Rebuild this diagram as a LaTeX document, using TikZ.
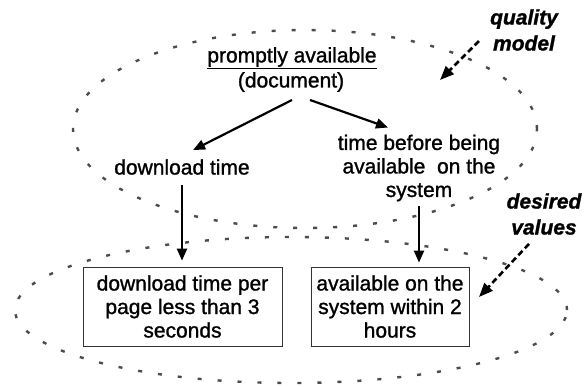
\documentclass[tikz,border=0pt]{standalone}
\usepackage{fontspec}
\setmainfont{Liberation Sans}[FakeBold=1.2]
\newfontfamily\heavyfont{Liberation Sans}[FakeBold=1.2]
\usetikzlibrary{arrows.meta}
\tikzset{
  txt/.style={inner sep=0pt, align=center, font=\heavyfont\fontsize{21}{23.5}\selectfont},
  lbl/.style={inner sep=0pt, align=center, font=\fontsize{21}{26}\selectfont\bfseries\itshape},
  valbox/.style={draw=black!80, line width=0.8pt, inner sep=0pt, align=center,
    font=\heavyfont\fontsize{21}{23.5}\selectfont},
  dotline/.style={draw=black!70, line width=2.4pt, dash pattern=on 4pt off 16pt},
  solidarrow/.style={line width=2.2pt, -{Triangle[length=12pt,width=10pt]}},
  dasharrow/.style={line width=2.6pt, dash pattern=on 6pt off 3.5pt, -{Triangle[length=14pt,width=11pt]}}
}
\begin{document}
\begin{tikzpicture}[x=1pt,y=-1pt]
\useasboundingbox (0,0) rectangle (587,386);
% ellipses
\draw[dotline] (305,129) ellipse [x radius=232pt, y radius=99pt];
\draw[dotline] (291,310) ellipse [x radius=276pt, y radius=73pt];
% texts
\node[txt] (pa) at (292,58) {\underline{promptly available}};
\node[txt] (doc) at (291,82) {(document)};
\node[txt] (dl) at (182,167) {download time};
\node[txt] (tb) at (419,168) {time before being\\available\ \ on the\\system};
\node[valbox, minimum width=199pt, minimum height=79pt] (b1) at (182.5,306.5) {download time per\\page less than 3\\seconds};
\node[valbox, minimum width=158pt, minimum height=79pt] (b2) at (390,306.5) {available on the\\system within 2\\hours};
\node[lbl] (qm) at (524,30) {quality\\model};
\node[lbl] (dv) at (544,214) {desired\\values};
% arrow targets
\coordinate (qmtip) at (440,80);
\coordinate (dvtip) at (479,297);
% arrows
\draw[solidarrow] ([xshift=1pt,yshift=-8pt]doc.south) -- ([xshift=11pt,yshift=9pt]dl.north);
\draw[solidarrow] ([xshift=19pt,yshift=-8pt]doc.south) -- ([xshift=-31pt,yshift=7pt]tb.north);
\draw[solidarrow] ([yshift=-10pt]dl.south) -- ([yshift=6pt]dl.south |- b1.north);
\draw[solidarrow] ([yshift=-5pt]tb.south) -- ([yshift=4pt]tb.south |- b2.north);
\draw[dasharrow] ([xshift=-11pt,yshift=-11pt]qm.west) -- (qmtip);
\draw[dasharrow] ([xshift=-15pt,yshift=-9pt]dv.south) -- (dvtip);
\end{tikzpicture}
\end{document}
